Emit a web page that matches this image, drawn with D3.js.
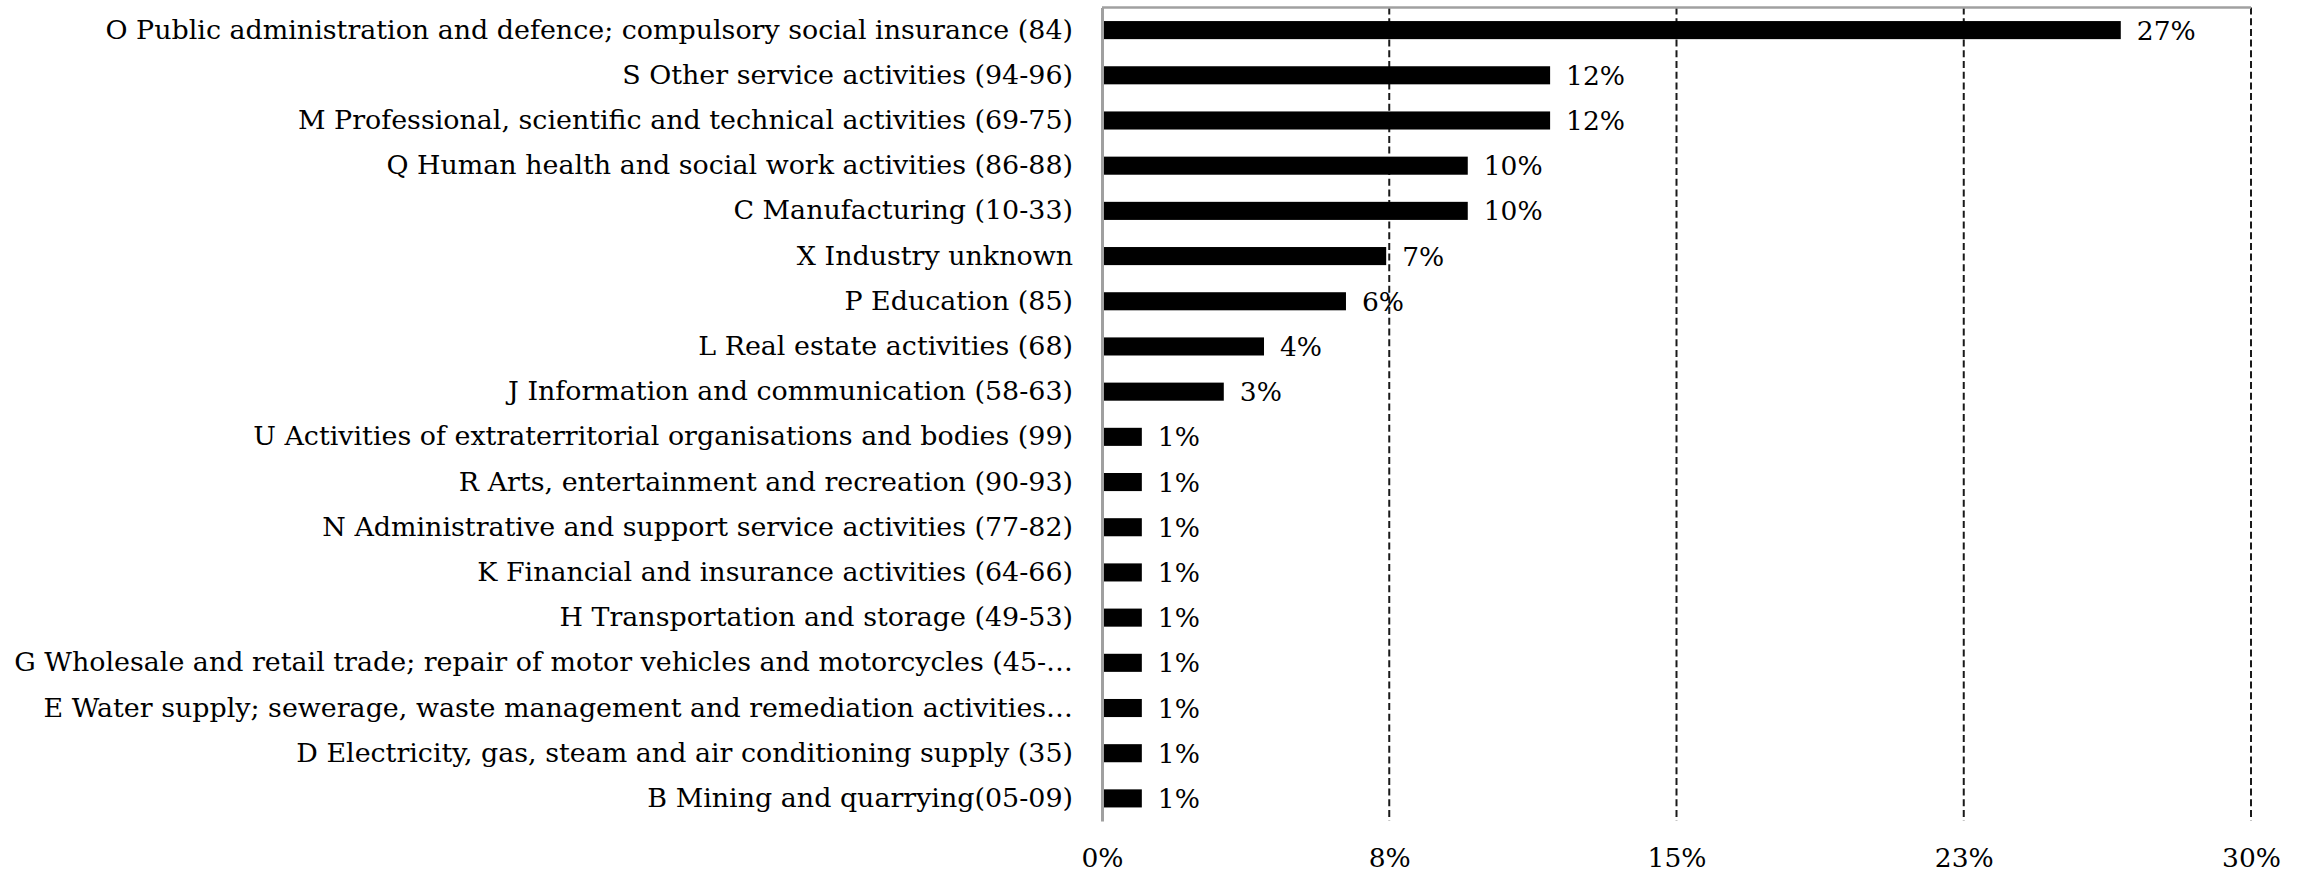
<!DOCTYPE html>
<html>
<head>
<meta charset="utf-8">
<script src="https://cdn.jsdelivr.net/npm/d3@7"></script>
<style>
  html, body { margin: 0; padding: 0; background: #fff; }
  svg { display: block; }
  text { font-family: "DejaVu Serif", Georgia, serif; fill: #000; }
</style>
</head>
<body>
<svg id="chart" width="2305" height="878"></svg>
<script>
// Industry sections (NACE) and their share of the total
const categories = [
  "O Public administration and defence; compulsory social insurance (84)",
  "S Other service activities (94-96)",
  "M Professional, scientific and technical activities (69-75)",
  "Q Human health and social work activities (86-88)",
  "C Manufacturing (10-33)",
  "X Industry unknown",
  "P Education (85)",
  "L Real estate activities (68)",
  "J Information and communication (58-63)",
  "U Activities of extraterritorial organisations and bodies (99)",
  "R Arts, entertainment and recreation (90-93)",
  "N Administrative and support service activities (77-82)",
  "K Financial and insurance activities (64-66)",
  "H Transportation and storage (49-53)",
  "G Wholesale and retail trade; repair of motor vehicles and motorcycles (45-…",
  "E Water supply; sewerage, waste management and remediation activities…",
  "D Electricity, gas, steam and air conditioning supply (35)",
  "B Mining and quarrying(05-09)"
];
const shares = [
  0.266, 0.117, 0.117, 0.0955, 0.0955, 0.0742, 0.0637, 0.0423, 0.0318,
  0.0104, 0.0104, 0.0104, 0.0104, 0.0104, 0.0104, 0.0104, 0.0104, 0.0104
];
const tickValues = [0, 0.075, 0.15, 0.225, 0.3];
const tickLabels = ["0%", "8%", "15%", "23%", "30%"];

const svg = d3.select("#chart");
const margin = { left: 1102, right: 54, top: 7.5, bottom: 57 };
const W = 2305, H = 878;
const labelSize = 26.9;
const valueSize = 26.5;
const serif = "\"DejaVu Serif\", Georgia, serif";

const x = d3.scaleLinear()
  .domain([0, 0.3])
  .range([margin.left, W - margin.right]);

const y = d3.scaleBand()
  .domain(categories)
  .range([margin.top, H - margin.bottom])
  .paddingInner(0.6)
  .paddingOuter(0.3);

const fmt = d3.format(".0%");

// Dashed vertical gridlines
svg.append("g")
  .selectAll("line")
  .data(tickValues.slice(1))
  .join("line")
  .attr("x1", d => x(d)).attr("x2", d => x(d))
  .attr("y1", margin.top).attr("y2", H - margin.bottom)
  .attr("stroke", "#1a1a1a")
  .attr("stroke-width", 2)
  .attr("stroke-dasharray", "7,3.7");

// Top frame line
svg.append("line")
  .attr("x1", x(0)).attr("x2", x(0.3))
  .attr("y1", margin.top).attr("y2", margin.top)
  .attr("stroke", "#a0a0a0")
  .attr("stroke-width", 2.5);

// Bars
svg.append("g")
  .selectAll("rect")
  .data(shares)
  .join("rect")
  .attr("x", x(0))
  .attr("y", (d, i) => y(categories[i]))
  .attr("width", d => x(d) - x(0))
  .attr("height", y.bandwidth())
  .attr("fill", "#000");

// Value labels
svg.append("g")
  .selectAll("text")
  .data(shares)
  .join("text")
  .attr("x", d => x(d) + 16)
  .attr("y", (d, i) => y(categories[i]) + y.bandwidth() / 2)
  .attr("dy", "0.36em")
  .style("font-size", valueSize + "px")
  .text(d => fmt(d));

// Category axis
const yAxis = svg.append("g")
  .attr("transform", `translate(${x(0)},0)`)
  .call(d3.axisLeft(y).tickSize(0).tickPadding(29));
yAxis.select(".domain")
  .attr("stroke", "#a0a0a0")
  .attr("stroke-width", 3);
yAxis.selectAll("text")
  .style("font-size", labelSize + "px")
  .style("font-family", serif)
  .attr("fill", "#000");

// Value axis labels
const xAxis = svg.append("g")
  .attr("transform", `translate(0,${H - margin.bottom})`)
  .call(d3.axisBottom(x)
    .tickValues(tickValues)
    .tickFormat((d, i) => tickLabels[i])
    .tickSize(0)
    .tickPadding(27));
xAxis.select(".domain").remove();
xAxis.selectAll("text")
  .style("font-size", valueSize + "px")
  .style("font-family", serif)
  .attr("fill", "#000");
</script>
</body>
</html>
